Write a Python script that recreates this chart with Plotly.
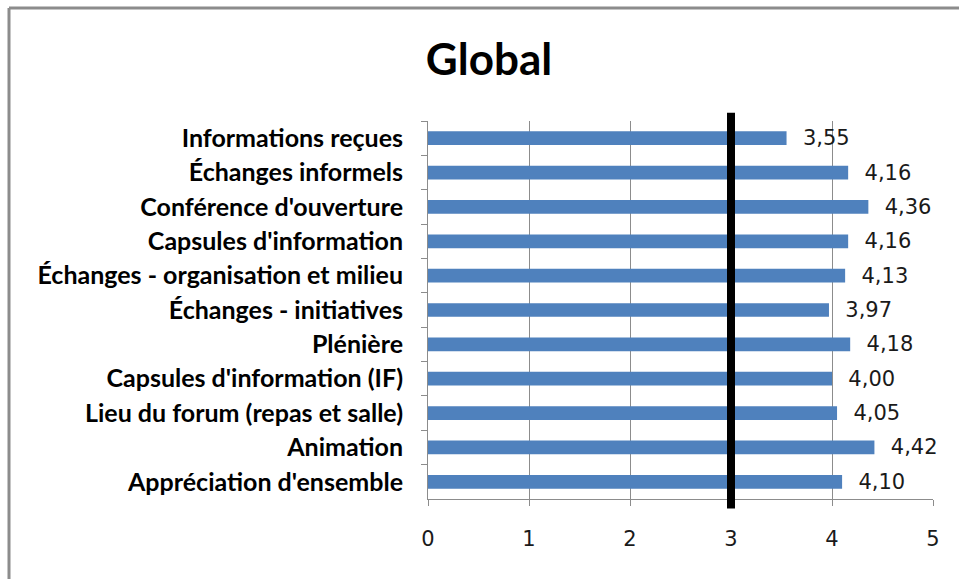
import plotly.graph_objects as go

categories = [
    "Informations reçues",
    "Échanges informels",
    "Conférence d'ouverture",
    "Capsules d'information",
    "Échanges - organisation et milieu",
    "Échanges - initiatives",
    "Plénière",
    "Capsules d'information (IF)",
    "Lieu du forum (repas et salle)",
    "Animation",
    "Appréciation d'ensemble",
]
values = [3.55, 4.16, 4.36, 4.16, 4.13, 3.97, 4.18, 4.00, 4.05, 4.42, 4.10]
threshold = 3
x_ticks = [0, 1, 2, 3, 4, 5]
title_text = "Global"

W, H = 959, 579
L, R, T, B = 428, 26, 121, 80
pw, ph = W - L - R, H - T - B

def px_to_paper_x(px):
    return (px - L) / pw

def px_to_paper_y(py):
    return (H - B - py) / ph

fig = go.Figure()
fig.add_trace(go.Bar(
    x=values, y=categories, orientation="h",
    marker=dict(color="#4F81BD", line=dict(width=0)),
    width=0.4,
    texttemplate="\u00a0\u00a0%{x:.2f}",
    textposition="outside",
    constraintext="none",
    textfont=dict(family="DejaVu Sans", size=21, color="#1a1a1a"),
    cliponaxis=False,
    hoverinfo="skip",
))

# reference line
fig.add_shape(type="line", xref="x", yref="paper",
              x0=threshold, x1=threshold, y0=-0.025, y1=1.022,
              line=dict(color="black", width=8), layer="above")

# outer chart border (left & top visible)
bx, by = px_to_paper_x(9), px_to_paper_y(8)
fig.add_shape(type="line", xref="paper", yref="paper",
              x0=bx, x1=px_to_paper_x(W + 20), y0=by, y1=by,
              line=dict(color="#8c8c8c", width=3))
fig.add_shape(type="line", xref="paper", yref="paper",
              x0=bx, x1=bx, y0=by, y1=px_to_paper_y(H + 20),
              line=dict(color="#8c8c8c", width=3))

fig.update_layout(
    width=W, height=H,
    margin=dict(l=L, r=R, t=T, b=B, pad=0),
    paper_bgcolor="white", plot_bgcolor="white",
    separators=", ",
    showlegend=False,
    bargap=0.6,
    title=dict(text=f"<b>{title_text}</b>", x=489 / W, xref="container", xanchor="center",
               y=1 - 60 / H, yref="container", yanchor="middle",
               font=dict(family="Lato", size=44, color="black")),
    xaxis=dict(range=[0, 5], tickvals=x_ticks, ticktext=[str(v) for v in x_ticks],
               showgrid=True, gridcolor="#8c8c8c", gridwidth=1,
               showline=True, linecolor="#8c8c8c", linewidth=1,
               ticks="outside", ticklen=6, tickcolor="#8c8c8c",
               ticklabelstandoff=15,
               tickfont=dict(family="DejaVu Sans", size=21, color="#1a1a1a"),
               zeroline=False, fixedrange=True),
    yaxis=dict(autorange="reversed", type="category",
               showline=True, linecolor="#8c8c8c", linewidth=1,
               ticks="outside", ticklen=6, tickcolor="#8c8c8c",
               tickson="boundaries", ticklabelstandoff=19,
               tickfont=dict(family="Lato", size=25, color="black", weight="bold"),
               showgrid=False, fixedrange=True),
)

fig.write_html("out.html", config={"displayModeBar": False},
               post_script="document.body.style.margin='0';document.body.style.overflow='hidden';")
